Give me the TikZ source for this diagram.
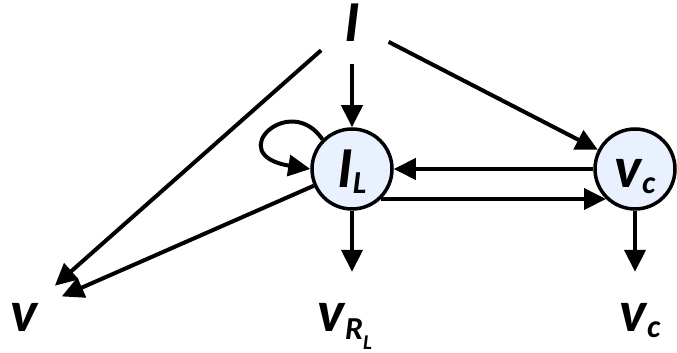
\documentclass[tikz,border=0pt]{standalone}
\usepackage{fontspec}
\setmainfont{Carlito}
\usepackage{xcolor}
\definecolor{stateblue}{RGB}{232,241,253}
\usetikzlibrary{arrows.meta}

\newcommand{\bigtxt}{\fontsize{58}{60}\selectfont\bfseries\itshape}
\newcommand{\subtxt}[2][6pt]{\raisebox{-#1}{\fontsize{32}{32}\selectfont #2}}

\tikzset{
  state/.style={circle, draw, line width=3.5pt, fill=stateblue, minimum size=80pt,
    inner sep=0pt, text height=37pt, text depth=0pt, font=\bigtxt},
  tag/.style={circle, minimum size=82pt, inner sep=0pt, text height=37pt,
    text depth=0pt, font=\bigtxt},
  flow/.style={line width=4pt, -{Triangle[length=22pt,width=21pt]}},
}

\begin{document}
\begin{tikzpicture}[x=1pt,y=1pt]
  \useasboundingbox (0,0) rectangle (677,353);

  % Nodes
  \node[tag] (I) at (352,330) {I};
  \node[state] (IL) at (352,184) {I\subtxt{L}};
  \node[state] (Vc) at (635,184) {v\subtxt{c}};

  % Output labels
  \node[tag] (v) at (24,40) {v};
  \node[tag] (vRL) at (345,40) {v\subtxt[8pt]{R\raisebox{-10pt}{\fontsize{21}{21}\selectfont L}}};
  \node[tag] (vc) at (640,40) {v\subtxt{c}};

  % Connectors
  \draw[flow] (I) -- (IL);
  \draw[flow] (I) -- (Vc);
  \draw[flow] (I) -- (v);
  \draw[flow] (IL) -- (v);
  \draw[flow] (Vc.west) -- (IL.east);
  \draw[flow] (IL.-46) -- (Vc.-134);
  \draw[flow] (IL) -- (IL |- vRL.north);
  \draw[flow] (Vc) -- (Vc |- vc.north);

  % Self loop
  \draw[flow] (IL.135) .. controls (290,262) and (222,198) .. (IL.180);
\end{tikzpicture}
\end{document}
